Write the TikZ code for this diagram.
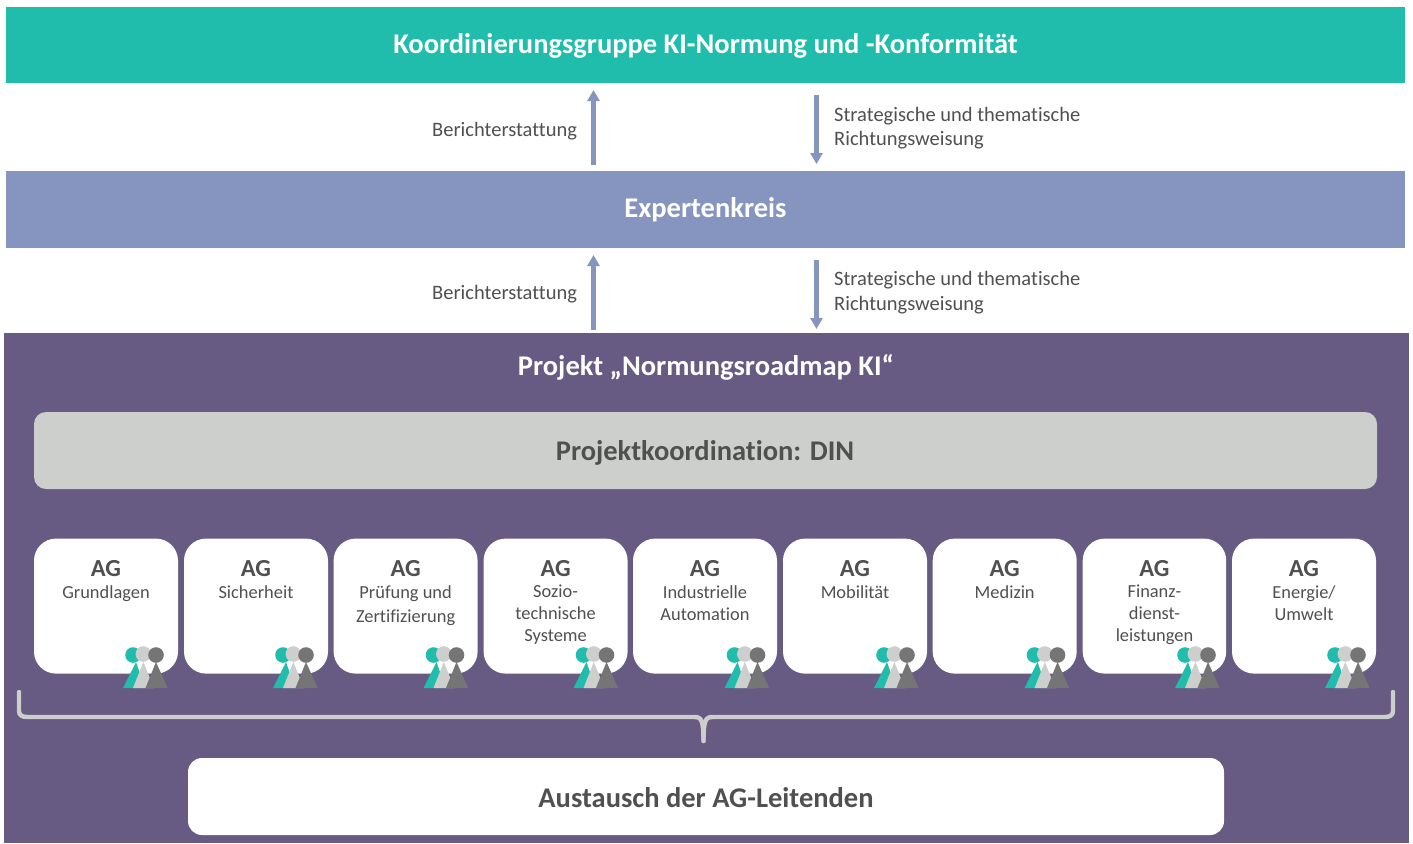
\documentclass[tikz,border=0pt]{standalone}
\usepackage{fontspec}
\setmainfont[Ligatures=NoCommon]{Carlito}
\usetikzlibrary{arrows.meta}
\definecolor{teal1}{HTML}{20BCAC}
\definecolor{blue1}{HTML}{8595BF}
\definecolor{purple1}{HTML}{675A83}
\definecolor{gray1}{HTML}{CDCFCD}
\definecolor{dark1}{HTML}{757575}
\definecolor{txt1}{HTML}{505050}
\newcommand{\fs}[2][0]{\fontsize{#2}{22}\selectfont}
\tikzset{
  x=1pt,y=-1pt,
  band/.style={anchor=north west,inner sep=0pt,outer sep=0pt,minimum height=#1},
  title/.style={text=white,font=\fs{28.5}\bfseries,inner sep=0pt},
  small/.style={text=txt1,font=\fs{20.5},inner sep=0pt,align=left},
  flow/.style={blue1,line width=4.3pt,-{Triangle[length=11pt,width=12pt]},shorten >=0pt},
  agbox/.style={fill=white,rounded corners=22pt,inner sep=0pt,outer sep=0pt,minimum height=135pt,anchor=north west},
  aghead/.style={text=txt1,font=\fs{24.5}\bfseries,inner sep=0pt},
  agtext/.style={text=txt1,font=\fs{18.4},inner sep=0pt,align=center,anchor=north},
  bracel/.style={gray1,line width=4.4pt,line cap=round,line join=round},
  people/.pic={
    \fill[teal1] (10,-33) circle[radius=7.8];
    \fill[teal1] (13,-26) -- (0,0) -- (22,0) -- cycle;
    \fill[gray1] (20.3,-34) circle[radius=7.8];
    \fill[gray1] (20.3,-26) -- (10,0) -- (31,0) -- cycle;
    \fill[dark1] (33,-33) circle[radius=7.8];
    \fill[dark1] (33,-26) -- (22.5,0) -- (44.7,0) -- cycle;
  }
}
\begin{document}
\begin{tikzpicture}
\useasboundingbox (0,0) rectangle (1413,843);
\fill[white] (0,0) rectangle (1413,843);
\node[band=76pt,fill=teal1,minimum width=1399pt] (koord) at (6,7) {};
\node[title] (koordt) at (705.5,45.5) {Koordinierungsgruppe KI-Normung und -Konformität};
\node[band=77pt,fill=blue1,minimum width=1399pt] (exp) at (6,171) {};
\node[title] (expt) at (705.5,209.5) {Expertenkreis};
\fill[purple1] (4,333) rectangle (1409,843);
\node[title] (proj) at (706,367) {Projekt „Normungsroadmap KI“};
\node[band=77pt,fill=gray1,rounded corners=12pt,minimum width=1343pt] (koordin) at (34,412) {};
\node[title,text=txt1] (koordint) at (705,453) {Projektkoordination: DIN};
\node[band=77pt,fill=white,rounded corners=14pt,minimum width=1036pt] (aust) at (188,758) {};
\node[title,text=txt1] (austt) at (706,797.3) {Austausch der AG-Leitenden};

\node[small,anchor=west] (b1) at (432,131.5) {Berichterstattung};
\node[small,anchor=west] (s1a) at (834,116) {Strategische und thematische};
\node[small,anchor=west] (s1b) at (834,140) {Richtungsweisung};
\node[small,anchor=west] (b2) at (432,294.5) {Berichterstattung};
\node[small,anchor=west] (s2a) at (834,280.5) {Strategische und thematische};
\node[small,anchor=west] (s2b) at (834,305) {Richtungsweisung};

\coordinate (u1a) at (593.5,164.5); \coordinate (u1b) at (593.5,90);
\coordinate (d1a) at (816.5,95); \coordinate (d1b) at (816.5,164);
\coordinate (u2a) at (593.5,329.5); \coordinate (u2b) at (593.5,255);
\coordinate (d2a) at (816.5,260); \coordinate (d2b) at (816.5,329);
\draw[flow] (u1a) -- (u1b);
\draw[flow] (d1a) -- (d1b);
\draw[flow] (u2a) -- (u2b);
\draw[flow] (d2a) -- (d2b);

\foreach \n/\xa/\w/\ic/\body in {
  a/34/144/123/{Grundlagen},
  b/184/144/273/{Sicherheit},
  c/333.6/144/423.5/{Prüfung und\\[2pt]Zertifizierung},
  d/483.6/144/573.5/{Sozio-\\technische\\Systeme},
  e/633/144/724.5/{Industrielle\\Automation},
  f/783/144/874/{Mobilität},
  g/932.7/144/1024.5/{Medizin},
  h/1082.7/143.5/1175/{Finanz-\\dienst-\\leistungen},
  i/1232/144/1325/{Energie/\\Umwelt}}{
  \node[agbox,minimum width=\w pt] (box\n) at (\xa,538.6) {};
  \node[aghead] (head\n) at ([yshift=-29.5pt]box\n.north) {AG};
  \node[agtext] (txt\n) at ([yshift=-46.5pt]box\n.north) {\body};
  \pic at (\ic,688) {people};
}

\coordinate (bl) at (19,692); \coordinate (br) at (1393,692); \coordinate (bm) at (703.5,741);
\draw[bracel] (bl) -- (19,711) .. controls (19,715) and (22,717) .. (27,717) -- (694,717) .. controls (701,717) and (703.5,719) .. (bm);
\draw[bracel] (br) -- (1393,711) .. controls (1393,715) and (1390,717) .. (1385,717) -- (713,717) .. controls (706,717) and (703.5,719) .. (bm);
\end{tikzpicture}
\end{document}
